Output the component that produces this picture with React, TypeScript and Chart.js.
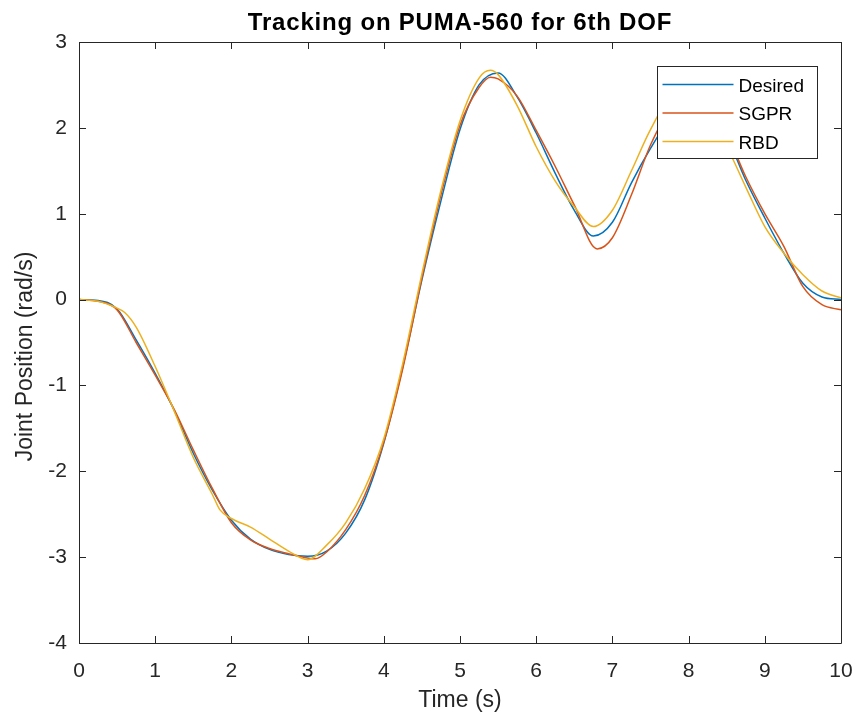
import React, { useEffect, useRef } from 'react';
import { Chart, registerables } from 'chart.js';

Chart.register(...registerables);

const chartTitle = 'Tracking on PUMA-560 for 6th DOF';
const xAxisTitle = 'Time (s)';
const yAxisTitle = 'Joint Position (rad/s)';
const xTicks = [0, 1, 2, 3, 4, 5, 6, 7, 8, 9, 10];
const yTicks = [-4, -3, -2, -1, 0, 1, 2, 3];

const desiredTime = [0, 0.25, 0.5, 0.75, 1, 1.25, 1.5, 1.75, 2, 2.25, 2.5, 2.75, 3, 3.25, 3.5, 3.75, 4, 4.25, 4.5, 4.75, 5, 5.25, 5.5, 5.75, 6, 6.25, 6.5, 6.75, 7, 7.25, 7.5, 7.75, 8, 8.25, 8.5, 8.75, 9, 9.25, 9.5, 9.75, 10];
const desiredValues = [0, -0.01, -0.11, -0.47, -0.86, -1.29, -1.79, -2.22, -2.57, -2.79, -2.91, -2.97, -2.99, -2.93, -2.72, -2.33, -1.67, -0.78, 0.23, 1.15, 1.98, 2.5, 2.64, 2.36, 1.94, 1.47, 1.04, 0.74, 0.9, 1.36, 1.76, 2.1, 2.27, 2.2, 1.9, 1.39, 0.95, 0.54, 0.19, 0.03, 0.0];

const sgprTime = [0, 0.25, 0.5, 0.75, 1, 1.25, 1.5, 1.75, 2, 2.25, 2.5, 2.75, 3, 3.1, 3.25, 3.5, 3.75, 4, 4.25, 4.5, 4.75, 5, 5.25, 5.4, 5.5, 5.75, 6, 6.25, 6.5, 6.8, 7, 7.25, 7.5, 7.75, 8, 8.25, 8.5, 8.75, 9, 9.25, 9.5, 9.75, 10];
const sgprValues = [0, -0.02, -0.12, -0.5, -0.88, -1.28, -1.75, -2.2, -2.6, -2.8, -2.9, -2.96, -3.01, -3.02, -2.94, -2.68, -2.28, -1.66, -0.8, 0.25, 1.22, 2.03, 2.47, 2.59, 2.57, 2.37, 1.97, 1.55, 1.1, 0.59, 0.72, 1.22, 1.8, 2.2, 2.33, 2.25, 1.93, 1.43, 1.0, 0.62, 0.15, -0.06, -0.12];

const rbdTime = [0, 0.25, 0.5, 0.6, 0.75, 1, 1.25, 1.5, 1.75, 1.85, 2, 2.25, 2.5, 2.75, 3, 3.25, 3.5, 3.75, 4, 4.25, 4.5, 4.75, 5, 5.25, 5.4, 5.5, 5.75, 6, 6.25, 6.5, 6.75, 7, 7.25, 7.5, 7.75, 8, 8.25, 8.5, 8.75, 9, 9.25, 9.5, 9.75, 10];
const rbdValues = [0, -0.02, -0.1, -0.15, -0.32, -0.78, -1.3, -1.84, -2.27, -2.45, -2.55, -2.65, -2.79, -2.93, -3.03, -2.86, -2.6, -2.2, -1.62, -0.74, 0.3, 1.27, 2.08, 2.58, 2.67, 2.62, 2.26, 1.78, 1.38, 1.08, 0.85, 1.04, 1.5, 1.98, 2.32, 2.35, 2.12, 1.78, 1.31, 0.85, 0.54, 0.29, 0.1, 0.02];

const seriesLabels = ['Desired', 'SGPR', 'RBD'];
const seriesColors = ['#0072BD', '#D95319', '#EDB120'];

const FONT = "'Liberation Sans', Arial, Helvetica, sans-serif";
const AXIS_COLOR = '#262626';

const toPoints = (t: number[], v: number[]) => t.map((x, i) => ({ x, y: v[i] }));

const framePlugin = {
  id: 'matlabFrame',
  afterDraw(chart: any) {
    const { ctx, chartArea, scales } = chart;
    const { left, right, top, bottom } = chartArea;
    ctx.save();
    ctx.strokeStyle = AXIS_COLOR;
    ctx.lineWidth = 1;
    ctx.beginPath();
    ctx.rect(Math.round(left) + 0.5, Math.round(top) + 0.5, Math.round(right - left), Math.round(bottom - top));
    ctx.stroke();
    const tl = 7;
    ctx.beginPath();
    xTicks.forEach((v) => {
      const px = Math.round(scales.x.getPixelForValue(v)) + 0.5;
      ctx.moveTo(px, bottom);
      ctx.lineTo(px, bottom - tl);
      ctx.moveTo(px, top);
      ctx.lineTo(px, top + tl);
    });
    yTicks.forEach((v) => {
      const py = Math.round(scales.y.getPixelForValue(v)) + 0.5;
      ctx.moveTo(left, py);
      ctx.lineTo(left + tl, py);
      ctx.moveTo(right, py);
      ctx.lineTo(right - tl, py);
    });
    ctx.stroke();

    // title
    ctx.fillStyle = '#000';
    ctx.font = `bold 24px ${FONT}`;
    (ctx as any).letterSpacing = '0.8px';
    ctx.textAlign = 'center';
    ctx.textBaseline = 'alphabetic';
    ctx.fillText(chartTitle, (left + right) / 2, 30);
    (ctx as any).letterSpacing = '0px';

    // y axis title
    ctx.save();
    ctx.translate(26, (top + bottom) / 2 + 14);
    ctx.rotate(-Math.PI / 2);
    ctx.fillStyle = AXIS_COLOR;
    ctx.font = `23px ${FONT}`;
    ctx.textAlign = 'center';
    ctx.textBaseline = 'middle';
    ctx.fillText(yAxisTitle, 0, 0);
    ctx.restore();

    // legend
    const lx = Math.round(right) - 184 + 0.5;
    const ly = Math.round(top) + 24 + 0.5;
    const lw = 160;
    const lh = 92;
    ctx.fillStyle = '#fff';
    ctx.fillRect(lx, ly, lw, lh);
    ctx.strokeStyle = AXIS_COLOR;
    ctx.lineWidth = 1;
    ctx.strokeRect(lx, ly, lw, lh);
    ctx.font = `19px ${FONT}`;
    ctx.textAlign = 'left';
    chart.data.datasets.forEach((ds: any, i: number) => {
      const cy = ly + 18 + i * 28.5;
      ctx.strokeStyle = ds.borderColor;
      ctx.lineWidth = 1.5;
      ctx.beginPath();
      ctx.moveTo(lx + 5, cy);
      ctx.lineTo(lx + 76, cy);
      ctx.stroke();
      ctx.fillStyle = '#000';
      ctx.fillText(ds.label, lx + 81, cy + 7);
    });
    ctx.restore();
  },
};

export default function App() {
  const canvasRef = useRef<HTMLCanvasElement | null>(null);

  useEffect(() => {
    if (!canvasRef.current) return;
    const datasets = [
      { data: toPoints(desiredTime, desiredValues), order: 3 },
      { data: toPoints(sgprTime, sgprValues), order: 2 },
      { data: toPoints(rbdTime, rbdValues), order: 1 },
    ].map((d, i) => ({
      ...d,
      label: seriesLabels[i],
      borderColor: seriesColors[i],
      backgroundColor: seriesColors[i],
      borderWidth: 1.5,
      pointRadius: 0,
      fill: false,
      cubicInterpolationMode: 'monotone' as const,
    }));

    const chart = new Chart(canvasRef.current, {
      type: 'line',
      data: { datasets },
      options: {
        animation: false,
        responsive: false,
        maintainAspectRatio: false,
        layout: { padding: { top: 42, right: 17, left: 0, bottom: 0 } },
        plugins: {
          legend: { display: false },
          title: { display: false },
          tooltip: { enabled: false },
        },
        scales: {
          x: {
            type: 'linear',
            min: 0,
            max: 10,
            afterFit: (s: any) => { s.height = 77; s.paddingLeft = 0; s.paddingRight = 0; },
            afterBuildTicks: (s: any) => { s.ticks = xTicks.map((v) => ({ value: v })); },
            grid: { display: false, drawTicks: false },
            border: { display: false },
            ticks: { color: AXIS_COLOR, font: { family: FONT, size: 21 }, padding: 16, maxRotation: 0 },
            title: { display: true, text: xAxisTitle, color: AXIS_COLOR, font: { family: FONT, size: 23 }, padding: { top: 0, bottom: 6 } },
          },
          y: {
            type: 'linear',
            min: -4,
            max: 3,
            afterFit: (s: any) => { s.width = 79; s.paddingTop = 0; s.paddingBottom = 0; },
            afterBuildTicks: (s: any) => { s.ticks = yTicks.map((v) => ({ value: v })); },
            grid: { display: false, drawTicks: false },
            border: { display: false },
            ticks: { color: AXIS_COLOR, font: { family: FONT, size: 21 }, padding: 12 },
            title: { display: false },
          },
        },
      },
      plugins: [framePlugin],
    });
    return () => chart.destroy();
  }, []);

  return (
    <div style={{ position: 'absolute', left: 0, top: 0, width: 858, height: 720, background: '#fff' }}>
      <canvas ref={canvasRef} width={858} height={720} style={{ display: 'block' }} aria-label={`${chartTitle}; ${xAxisTitle}; ${yAxisTitle}`} />
    </div>
  );
}
